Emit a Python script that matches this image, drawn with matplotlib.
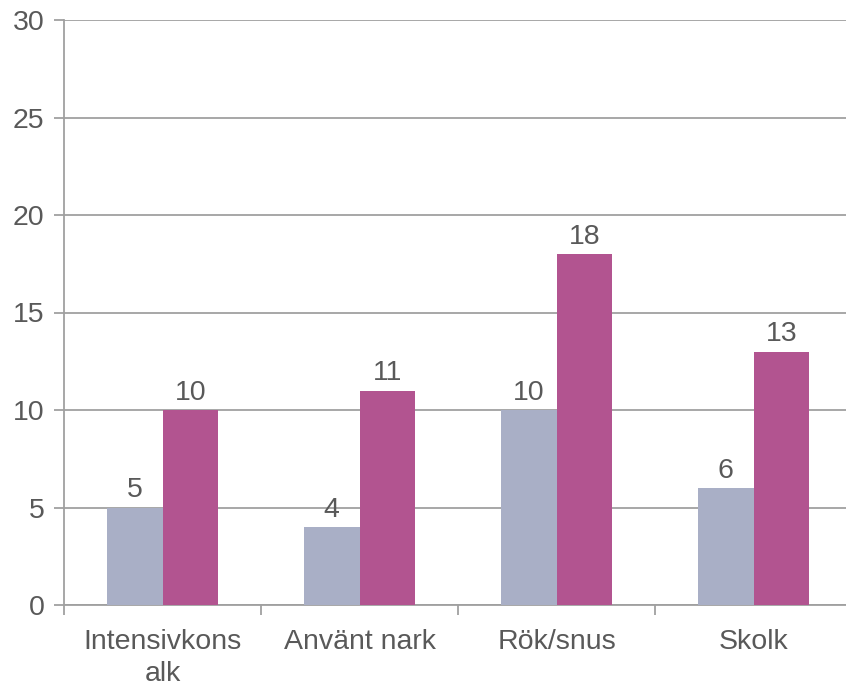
import numpy as np
import matplotlib.pyplot as plt

plt.rcParams['font.family'] = ['Liberation Sans', 'DejaVu Sans']

categories = ['Intensivkons\nalk', 'Använt nark', 'Rök/snus', 'Skolk']
series_a = [5, 4, 10, 6]
series_b = [10, 11, 18, 13]
y_ticks = [0, 5, 10, 15, 20, 25, 30]

grey = '#A9AFC6'
pink = '#B25490'
line_col = '#A0A0A0'
text_col = '#595959'
fs = 20.5

fig = plt.figure(figsize=(8.46, 6.85), dpi=100)
ax = fig.add_axes([64 / 846, 80 / 685, 788 / 846, 585 / 685])

x = np.arange(len(categories))
w = 0.284
bars_a = ax.bar(x - w / 2, series_a, w, color=grey, zorder=3)
bars_b = ax.bar(x + w / 2, series_b, w, color=pink, zorder=3)

for bars in (bars_a, bars_b):
    ax.bar_label(bars, padding=3, fontsize=fs, color=text_col)

ax.set_xlim(-0.5, len(categories) - 0.5)
ax.set_ylim(0, 30)
ax.set_yticks(y_ticks)
ax.set_xticks(x)
ax.set_xticklabels(categories, fontsize=fs, color=text_col, linespacing=1.3)
ax.set_xticks(np.arange(-0.5, len(categories), 1), minor=True)
ax.tick_params(axis='x', which='major', length=0, pad=17)
ax.tick_params(axis='x', which='minor', length=7, width=1.3, color=line_col)
ax.tick_params(axis='y', length=7, width=1.3, color=line_col, labelsize=fs,
               labelcolor=text_col, pad=7)

ax.grid(axis='y', color=line_col, linewidth=1.3, zorder=0)
for s in ['top', 'right']:
    ax.spines[s].set_visible(False)
for s in ['left', 'bottom']:
    ax.spines[s].set_color(line_col)
    ax.spines[s].set_linewidth(1.3)

fig.savefig('out.png', dpi=100)
